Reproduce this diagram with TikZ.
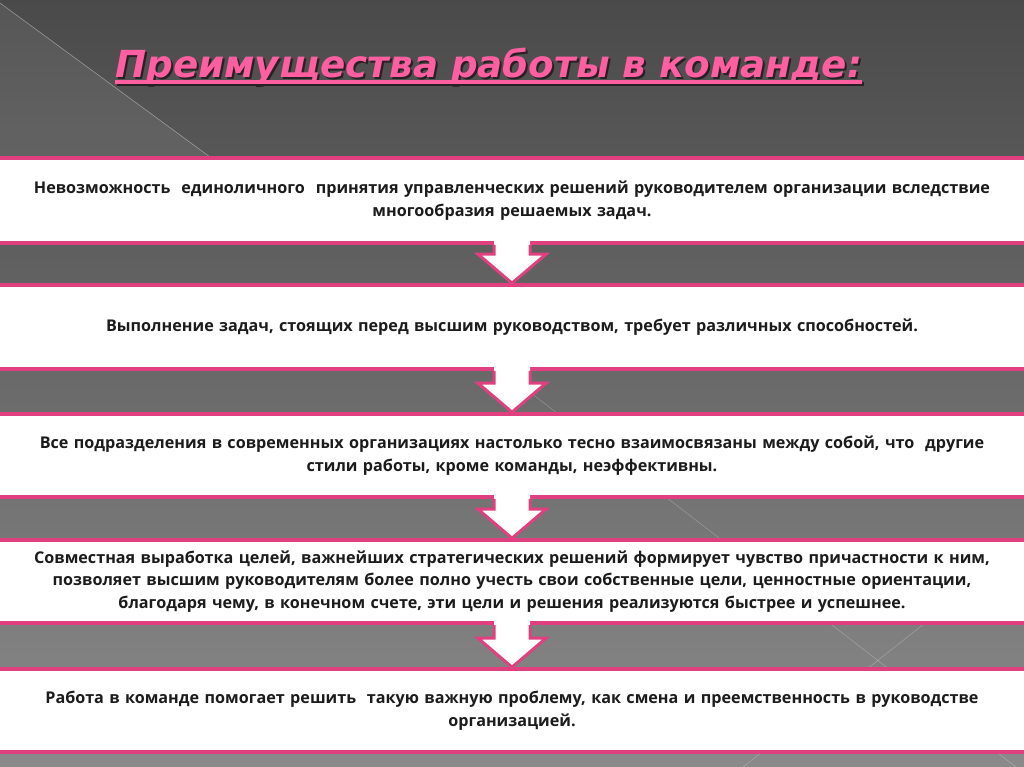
\documentclass[tikz,border=0pt]{standalone}
\usepackage{fontspec}
\setmainfont{Open Sans}
\newfontfamily\titlefont{DejaVu Sans}
\usetikzlibrary{calc}

\definecolor{bgtop}{HTML}{4A4A4A}
\definecolor{bgmid}{HTML}{666666}
\definecolor{bgbottom}{HTML}{8A8A8A}
\definecolor{bandpink}{HTML}{E0407F}
\definecolor{titlepink}{HTML}{FF5FA0}
\definecolor{titledark}{HTML}{2B1F26}
\definecolor{bodytext}{HTML}{1C1C1C}

\tikzset{
	band/.style={draw=bandpink, line width=0.9mm, fill=white, minimum width=27cm, text width=25cm, align=center, inner sep=0pt, text=bodytext, font=\fontsize{11.5}{16}\selectfont\bfseries},
	arrowline/.style={draw=bandpink, line width=0.75mm, line join=miter},
	titletext/.style={font=\titlefont\fontsize{26.5}{32}\selectfont\bfseries\itshape, inner sep=0pt, anchor=base west, text=titlepink},
	titleshadow/.style={titletext, text=titledark},
	bgline/.style={white, opacity=0.25, line width=0.4pt}
}

\newcommand{\flowarrow}[2]{%
	\fill[white] ($(#1.south)+(-18,-5)$) -- ($(#2.north)+(-18,-29)$) -- ($(#2.north)+(-34,-29)$) -- (#2.north) -- ($(#2.north)+(34,-29)$) -- ($(#2.north)+(18,-29)$) -- ($(#1.south)+(18,-5)$) -- cycle;
	\draw[arrowline] ($(#1.south)+(-18,0)$) -- ($(#2.north)+(-18,-29)$) -- ($(#2.north)+(-34,-29)$) -- (#2.north) -- ($(#2.north)+(34,-29)$) -- ($(#2.north)+(18,-29)$) -- ($(#1.south)+(18,0)$);
}

\begin{document}
\begin{tikzpicture}[x=0.025cm, y=-0.025cm]
	\useasboundingbox (0,0) rectangle (1024,767);
	\clip (0,0) rectangle (1024,767);

	\shade[top color=bgtop, middle color=bgmid, bottom color=bgbottom] (0,0) rectangle (1024,767);
	\fill[white, opacity=0.07] (0,3) -- (210,157) -- (0,157) -- cycle;
	\draw[bgline, opacity=0.4] (0,3) -- (210,157);
	\draw[bgline] (470,346) -- (1016,767);
	\draw[bgline] (1030,540) -- (743,767);

	\node[titleshadow] (shadow) at (117,80) {Преимущества работы в команде:};
	\node[titletext] (title) at (115,78) {Преимущества работы в команде:};
	\draw[titledark, line width=0.8mm] ($(title.base west)+(2,6)$) -- ($(title.base east)+(2,6)$);
	\draw[titlepink, line width=0.8mm] ($(title.base west)+(0,4)$) -- ($(title.base east)+(0,4)$);

	\node[band, minimum height=2.125cm] (b1) at (512,200.5) {Невозможность~ единоличного~ принятия управленческих решений руководителем организации вследствие\\многообразия решаемых задач.};
	\node[band, minimum height=2.1cm] (b2) at (512,327) {Выполнение задач, стоящих перед высшим руководством, требует различных способностей.};
	\node[band, minimum height=2.075cm] (b3) at (512,455.5) {Все подразделения в современных организациях настолько тесно взаимосвязаны между собой, что~ другие\\стили работы, кроме команды, неэффективны.};
	\node[band, minimum height=2.075cm] (b4) at (512,581.5) {Совместная выработка целей, важнейших стратегических решений формирует чувство причастности к ним,\\позволяет высшим руководителям более полно учесть свои собственные цели, ценностные ориентации,\\благодаря чему, в конечном счете, эти цели и решения реализуются быстрее и успешнее.};
	\node[band, minimum height=2.075cm] (b5) at (512,710.5) {Работа в команде помогает решить~ такую важную проблему, как смена и преемственность в руководстве\\организацией.};

	\foreach \a/\b in {b1/b2, b2/b3, b3/b4, b4/b5}
		\flowarrow{\a}{\b};
\end{tikzpicture}
\end{document}
